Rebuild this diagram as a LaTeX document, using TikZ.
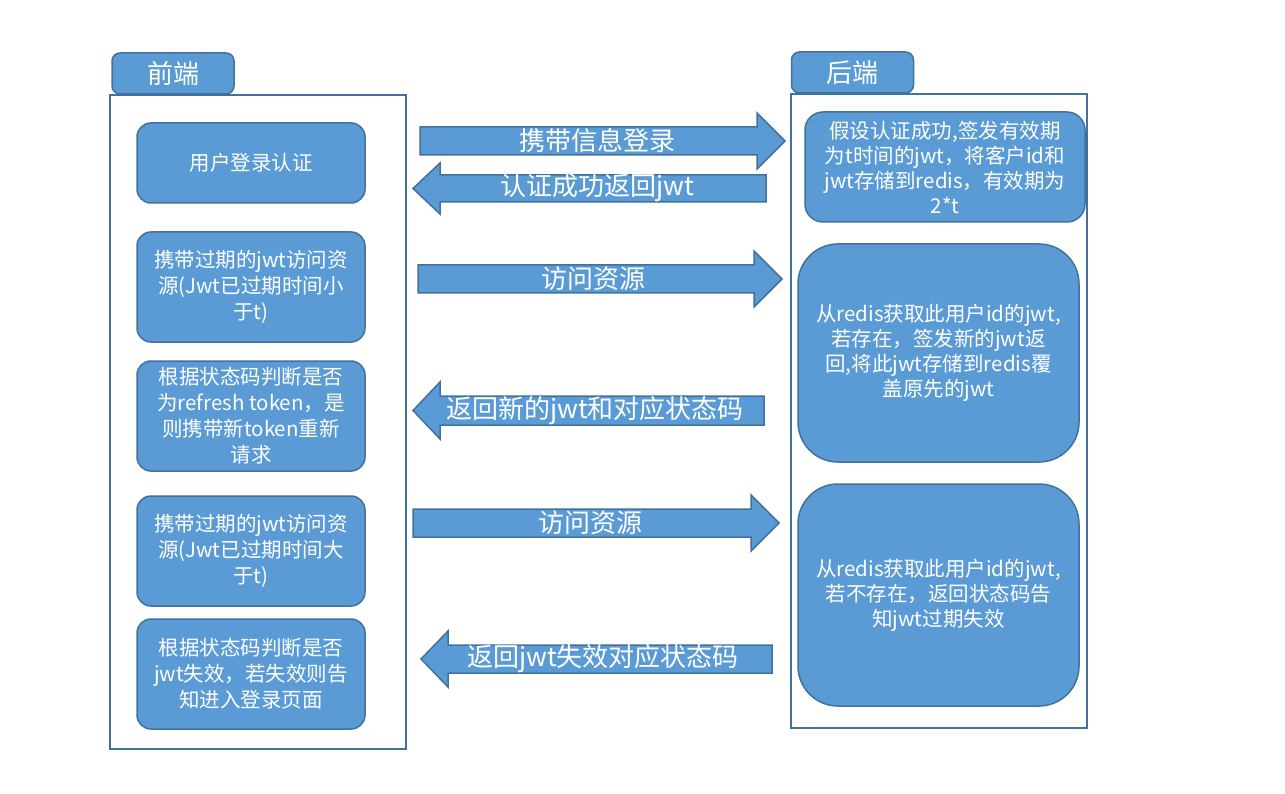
\documentclass[tikz,border=0pt]{standalone}
\usepackage{fontspec}
\setmainfont{Noto Sans CJK SC}
\usetikzlibrary{positioning}
\definecolor{JwtBlue}{RGB}{91,155,213}
\definecolor{JwtEdge}{RGB}{65,113,156}
\tikzset{
  jwt/box/.style={
    draw=JwtEdge,
    line width=1.5pt,
    rounded corners=14pt,
    fill=JwtBlue,
    align=center,
    text=white,
    inner sep=0pt,
    font=\fontsize{20.5}{26}\selectfont
  },
  jwt/bigbox/.style={jwt/box, rounded corners=40pt, font=\fontsize{20.5}{25}\selectfont},
  jwt/tab/.style={
    draw=JwtEdge,
    line width=1.5pt,
    rounded corners=8pt,
    fill=JwtBlue,
    text=white,
    inner sep=0pt,
    minimum width=122pt,
    minimum height=41pt,
    font=\fontsize{26}{30}\selectfont
  },
  jwt/frame/.style={draw=JwtEdge, line width=1.5pt, fill=white, inner sep=0pt},
  jwt/arrow/.style={draw=JwtEdge, line width=1.5pt, fill=JwtBlue},
  jwt/label/.style={text=white, inner sep=0pt, font=\fontsize{26}{30}\selectfont}
}

\begin{document}
\begin{tikzpicture}[x=1pt,y=-1pt]
  \useasboundingbox (0,0) rectangle (1285,794);
  % containers and headers
  \node[jwt/frame,minimum width=296pt,minimum height=654pt] (front) at (258,422) {};
  \node[jwt/frame,minimum width=296pt,minimum height=634pt] (back) at (939,411) {};
  \node[jwt/tab] (fronttab) at (173,73.5) {前端};
  \node[jwt/tab] (backtab) at (852.5,72.5) {后端};

  % front end steps
  \node[jwt/box,minimum width=228pt,minimum height=80pt] (login) at (251,163) {用户登录认证};
  \node[jwt/box,minimum width=228pt,minimum height=110pt] (expsmall) at (251,287)
    {携带过期的jwt访问资\\源(Jwt已过期时间小\\于t)};
  \node[jwt/box,minimum width=228pt,minimum height=110pt] (refresh) at (251,416)
    {根据状态码判断是否\\为refresh token，是\\则携带新token重新\\请求};
  \node[jwt/box,minimum width=228pt,minimum height=110pt] (explarge) at (251,551)
    {携带过期的jwt访问资\\源(Jwt已过期时间大\\于t)};
  \node[jwt/box,minimum width=228pt,minimum height=110pt] (relogin) at (251,674)
    {根据状态码判断是否\\jwt失效，若失效则告\\知进入登录页面};

  % back end steps
  \node[jwt/box,minimum width=280pt,minimum height=110pt,rounded corners=18pt,
    font=\fontsize{20.5}{25}\selectfont] (issue) at (945,167)
    {假设认证成功,签发有效期\\为t时间的jwt，将客户id和\\jwt存储到redis，有效期为\\2*t};
  \node[jwt/bigbox,minimum width=281pt,minimum height=218pt] (renew) at (938.5,353)
    {从redis获取此用户id的jwt,\\若存在，签发新的jwt返\\回,将此jwt存储到redis覆\\盖原先的jwt};
  \node[jwt/bigbox,minimum width=281pt,minimum height=222pt] (expire) at (938.5,595)
    {从redis获取此用户id的jwt,\\若不存在，返回状态码告\\知jwt过期失效};

  % block arrows
  \draw[jwt/arrow] (420,127) -- (757,127) -- (757,113) -- (785,141) -- (757,169)
    -- (757,155) -- (420,155) -- cycle;
  \node[jwt/label] (loginlbl) at (597,141) {携带信息登录};
  \draw[jwt/arrow] (766,175) -- (440,175) -- (440,163) -- (413,188.5) -- (440,214)
    -- (440,202) -- (766,202) -- cycle;
  \node[jwt/label] (okl) at (597,188) {认证成功返回jwt};
  \draw[jwt/arrow] (418,265) -- (754,265) -- (754,251) -- (782,279) -- (754,307)
    -- (754,293) -- (418,293) -- cycle;
  \node[jwt/label] (visit1) at (593,279) {访问资源};
  \draw[jwt/arrow] (764,396) -- (440,396) -- (440,382) -- (413,410.5) -- (440,439)
    -- (440,425) -- (764,425) -- cycle;
  \node[jwt/label] (newjwt) at (595,410.5) {返回新的jwt和对应状态码};
  \draw[jwt/arrow] (413,509) -- (751,509) -- (751,495) -- (779,523) -- (751,551)
    -- (751,537) -- (413,537) -- cycle;
  \node[jwt/label] (visit2) at (590,523) {访问资源};
  \draw[jwt/arrow] (772,645) -- (448,645) -- (448,631) -- (421,659) -- (448,687)
    -- (448,673) -- (772,673) -- cycle;
  \node[jwt/label] (failed) at (603,659) {返回jwt失效对应状态码};
\end{tikzpicture}
\end{document}
